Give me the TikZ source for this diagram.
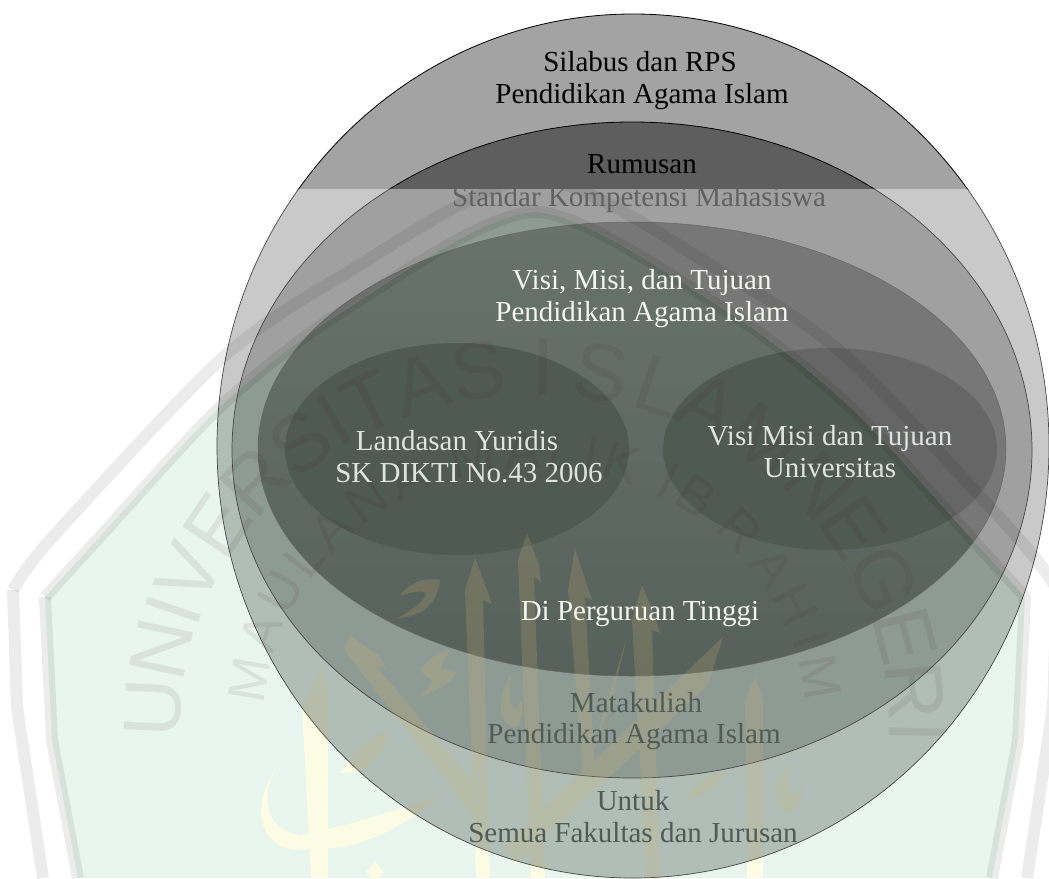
\documentclass[tikz,border=0pt]{standalone}
\usepackage{fontspec}
\setmainfont{Liberation Serif}
\newfontfamily\wmfont{Liberation Sans}
\definecolor{paleg}{HTML}{E9F5EF}
\definecolor{goldbg}{HTML}{FCFBE4}
\definecolor{goldal}{HTML}{D2B46A}
\definecolor{topA}{HTML}{A3A3A3}
\definecolor{topB}{HTML}{5E5E5E}
\definecolor{grA}{HTML}{C9C9C9}
\definecolor{grB}{HTML}{A0A0A0}
\definecolor{grC}{HTML}{777777}
\definecolor{grD}{HTML}{666666}
\definecolor{gnA}{HTML}{B0BEB7}
\definecolor{gnB}{HTML}{8E9A94}
\definecolor{gnCt}{HTML}{68736D}
\definecolor{gnCb}{HTML}{56615B}
\definecolor{gnD}{HTML}{4E5A52}
\definecolor{wmark}{HTML}{3A2020}
\definecolor{dimtx}{HTML}{505B56}
\definecolor{softtx}{HTML}{DDE3DF}
\definecolor{whitetx}{HTML}{F2F5F0}
\tikzset{
  lab/.style={font=\fontsize{29}{33}\selectfont,anchor=base,inner sep=0pt},
  blacktxt/.style={lab,text=black},
  whitetxt/.style={lab,text=whitetx},
  softtxt/.style={lab,text=softtx},
  dimtxt/.style={lab,text=dimtx},
  rim/.style={draw=black!72,line width=.7pt},
  toprim/.style={draw=black,line width=.8pt},
  stripe/.style={draw=black,line width=12pt,opacity=.075,line join=miter},
  wmbig/.style={font=\fontsize{81}{81}\selectfont\wmfont,text=wmark,text opacity=.085,inner sep=0pt},
  wmsmall/.style={font=\fontsize{53}{53}\selectfont\wmfont,text=wmark,text opacity=.085,inner sep=0pt},
}
% ellipses
\def\eA{(633,446) ellipse [x radius=416,y radius=432]}
\def\eB{(632,450) ellipse [x radius=400,y radius=328]}
\def\eC{(632,449) ellipse [x radius=374,y radius=227]}
\def\eD{(457,449) ellipse [x radius=172,y radius=106]}
\def\eE{(830,449) ellipse [x radius=167,y radius=101]}
% shield outlines
\def\shieldIn{plot[smooth,tension=.45] coordinates {(45,597)(97,540)(220,407)(340,313)(535,212)(730,313)(850,407)(973,540)(1025,597)}}
\def\shieldOut{plot[smooth,tension=.45] coordinates {(13,590)(50,540)(220,360)(340,277)(535,178)(730,277)(850,360)(1020,540)(1057,590)}}
\newcommand\callishapes[1]{%
  \fill[#1]
  (475,558)--(487,590)--(492,604)--(483,600)--(490,878)--(476,878)--(465,590)--cycle
  (527,533)--(539,565)--(541,582)--(534,576)--(545,878)--(531,878)--(518,560)--cycle
  (575,548)--(587,585)--(592,600)--(585,597)--(596,790)--(584,790)--(568,590)--cycle
  (642,585)--(654,615)--(660,633)--(652,630)--(660,878)--(646,878)--(632,620)--cycle
  (350,635)--(378,655)--(386,668)--(378,668)--(480,790)--(484,830)--(344,650)--cycle
  (505,845)--(723,637)--(708,685)--(515,865)--cycle
  (583,780)--(627,637)--(612,700)--cycle
  (755,677)--(763,700)--(763,878)--(747,878)--(745,700)--cycle
  (322,667)--(328,700)--(328,878)--(311,878)--(302,707)--cycle
  (280,763) .. controls (260,790) and (262,830) .. (300,835) -- (345,825) -- (440,797)
     .. controls (400,830) and (370,840) .. (345,847) -- (300,850)
     .. controls (255,850) and (250,800) .. (280,763) -- cycle
  (400,595) .. controls (415,578) and (430,578) .. (440,580) .. controls (438,600) and (425,617) .. (398,618)
     .. controls (420,605) and (428,597) .. (425,592) .. controls (415,590) and (405,595) .. (400,595) -- cycle
  (420,670) .. controls (430,655) and (445,650) .. (450,650) -- (440,668) -- (457,672)
     .. controls (450,685) and (435,690) .. (421,697) .. controls (430,685) and (435,678) .. (428,678) -- cycle
  (512,673) .. controls (498,695) and (495,725) .. (515,727) .. controls (525,720) and (522,708) .. (522,700)
     .. controls (515,715) and (505,710) .. (512,673) -- cycle
  (790,763) .. controls (775,780) and (770,812) .. (790,813) .. controls (800,810) and (803,795) .. (802,785)
     .. controls (796,800) and (782,800) .. (790,763) -- cycle
  (687,800) .. controls (695,780) and (710,775) .. (727,770) .. controls (720,785) and (705,795) .. (687,800) -- cycle
  (340,773) .. controls (350,760) and (360,740) .. (388,730) .. controls (392,745) and (370,770) .. (355,772) -- cycle
  (375,862)--(384,872)--(375,882)--(366,872)--cycle;
}
\begin{document}
\begin{tikzpicture}[x=1pt,y=-1pt]
\useasboundingbox (0,0) rectangle (1049,878);
\fill[white] (0,0) rectangle (1049,878);
\begin{scope}
  \clip (0,0) rectangle (1049,878);
  % pale shield and pale calligraphy
  \fill[paleg] \shieldIn -- (1018,740) -- (992,878) -- (78,878) -- (52,740) -- cycle;
  \callishapes{goldbg}
  % upper, unveiled part of the circles
  \begin{scope}
    \clip (0,0) rectangle (1049,189);
    \fill[white] (0,0) rectangle (1049,189);
    \path[fill=topA,toprim] \eA;
    \path[fill=topB,toprim] \eB;
  \end{scope}
  % lower, veiled part
  \begin{scope}
    \clip (0,189) rectangle (1049,878);
    \path[fill=grA] \eA;
    \path[fill=grB] \eB;
    \path[fill=grC] \eC;
    \path[fill=grD] \eD;
    \path[fill=grD] \eE;
    \begin{scope}
      \clip \shieldIn -- (1018,740) -- (992,878) -- (78,878) -- (52,740) -- cycle;
      \path[fill=gnA] \eA;
      \path[fill=gnB] \eB;
      \path[top color=gnCt,bottom color=gnCb] \eC;
      \path[fill=gnD] \eD;
      \path[fill=gnD] \eE;
    \end{scope}
    \path[rim] \eA;
    \path[rim] \eB;
    \path[draw=black!60,line width=.5pt] \eC;
    \begin{scope}
      \clip \eA;
      \callishapes{goldal,opacity=.2}
    \end{scope}
    % shield stripes over everything
    \draw[stripe] \shieldIn -- (1018,740) -- (992,878);
    \draw[stripe] (45,597) -- (52,740) -- (78,878);
    \draw[stripe] \shieldOut -- (1053,707) -- (1027,878);
    \draw[stripe] (13,590) -- (17,707) -- (43,878);
    % arched lettering of the seal
    \foreach \ch/\ang [count=\n] in {U/177.25,N/167.75,I/161.17,V/154.95,E/146.18,R/137.04,S/127.9,I/121.68,T/115.83,A/107.43,S/98.65,I/88.77,S/80,L/71,A/63,M/53,N/42,E/33.5,G/24,E/14.5,R/5.4,I/-1.2}
      \node[wmbig,rotate=\ang-90] (big\n) at ({535+382*cos(\ang)},{725-358*sin(\ang)}) {\ch};
    \foreach \ch/\ang [count=\n] in {M/170.5,A/160.5,U/151.2,L/142.75,A/134.6,N/125.4,A/116.2,M/102.5,A/92.5,L/84.4,I/78.8,K/72.5,I/62.6,B/56.3,R/45,A/35,H/26,I/18,M/10}
      \node[wmsmall,rotate=\ang-90] (small\n) at ({535+290*cos(\ang)},{725-275*sin(\ang)}) {\ch};
  \end{scope}
\end{scope}
% texts
\node[blacktxt] (silabus) at (640,71) {Silabus dan RPS};
\node[blacktxt] (pai) at (642,103) {Pendidikan Agama Islam};
\node[blacktxt] (rumusan) at (642,173) {Rumusan};
\node[lab,text=black!62] (standar) at (639,206) {Standar Kompetensi Mahasiswa};
\node[whitetxt] (visi) at (642,289) {Visi, Misi, dan Tujuan};
\node[whitetxt] (paib) at (642,321) {Pendidikan Agama Islam};
\node[softtxt] (landasan) at (457,450) {Landasan Yuridis};
\node[softtxt] (sk) at (469,482) {SK DIKTI No.43 2006};
\node[softtxt] (visiuniv) at (830,445) {Visi Misi dan Tujuan};
\node[softtxt] (univ) at (830,477) {Universitas};
\node[whitetxt] (pt) at (640,620) {Di Perguruan Tinggi};
\node[dimtxt] (mk) at (636,712) {Matakuliah};
\node[dimtxt] (paic) at (634,743) {Pendidikan Agama Islam};
\node[dimtxt] (untuk) at (633,810) {Untuk};
\node[dimtxt] (semua) at (633,842) {Semua Fakultas dan Jurusan};
\end{tikzpicture}
\end{document}
